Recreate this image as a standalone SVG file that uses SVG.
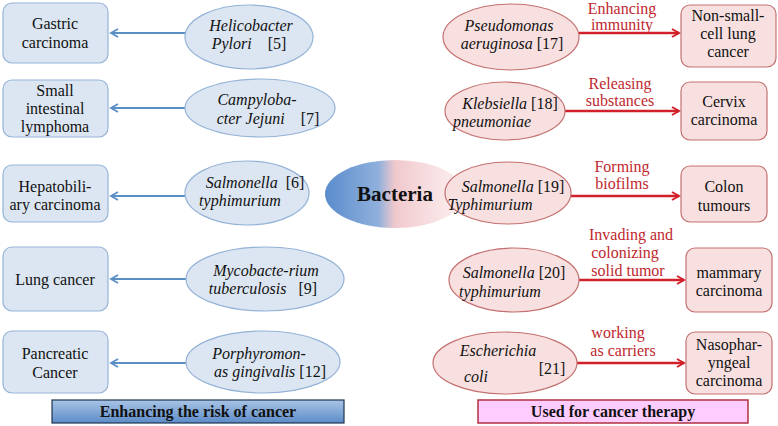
<svg xmlns="http://www.w3.org/2000/svg" width="778" height="426" viewBox="0 0 778 426" font-family="'Liberation Serif', 'Times New Roman', 'DejaVu Serif', serif">
<defs>
<marker id="ab" markerWidth="10" markerHeight="10" refX="8" refY="5" orient="auto" markerUnits="userSpaceOnUse"><path d="M1,1 L8,5 L1,9" fill="none" stroke="#5b8fc4" stroke-width="1.8"/></marker>
<marker id="ar" markerWidth="10" markerHeight="10" refX="8" refY="5" orient="auto" markerUnits="userSpaceOnUse"><path d="M1,1 L8,5 L1,9" fill="none" stroke="#d2202a" stroke-width="2"/></marker>
<linearGradient id="bac" x1="0" x2="1" y1="0" y2="0">
<stop offset="0" stop-color="#5a8ccc"/><stop offset="0.38" stop-color="#8fb0dc"/><stop offset="0.5" stop-color="#f0c8cc"/><stop offset="1" stop-color="#fbe4e6" stop-opacity="0.6"/></linearGradient>
<linearGradient id="cap" x1="0" x2="0" y1="0" y2="1"><stop offset="0" stop-color="#a9c4e6"/><stop offset="1" stop-color="#5d8cc8"/></linearGradient>
<style>
text{font-family:'Liberation Serif','Times New Roman','DejaVu Serif',serif;font-size:16px;fill:#111;text-anchor:middle}
.i{font-style:italic}
.lab{fill:#c0282e}
.bb{fill:#dce6f2;stroke:#95b3d7;stroke-width:1.2}
.pb{fill:#f8e0e0;stroke:#c47070;stroke-width:1.2}
.ab{stroke:#5b8fc4;stroke-width:2;fill:none}
.ar{stroke:#d2202a;stroke-width:2.5;fill:none}
.b{font-weight:bold}
</style>
</defs>
<g id="connectors">
<line class="ab" x1="185" y1="33" x2="111" y2="33" marker-end="url(#ab)"/>
<line class="ab" x1="185" y1="108" x2="111" y2="108" marker-end="url(#ab)"/>
<line class="ab" x1="185" y1="196" x2="111" y2="196" marker-end="url(#ab)"/>
<line class="ab" x1="186" y1="279" x2="111" y2="279" marker-end="url(#ab)"/>
<line class="ab" x1="186" y1="363" x2="111" y2="363" marker-end="url(#ab)"/>
<line class="ar" x1="579" y1="33" x2="679" y2="33" marker-end="url(#ar)"/>
<line class="ar" x1="565" y1="111" x2="679" y2="111" marker-end="url(#ar)"/>
<line class="ar" x1="571" y1="196" x2="679" y2="196" marker-end="url(#ar)"/>
<line class="ar" x1="579" y1="280" x2="684" y2="280" marker-end="url(#ar)"/>
<line class="ar" x1="577" y1="363" x2="684" y2="363" marker-end="url(#ar)"/>
<text class="lab" x="622" y="14">Enhancing</text><text class="lab" x="622" y="30">immunity</text>
<text class="lab" x="620" y="89">Releasing</text><text class="lab" x="620" y="106">substances</text>
<text class="lab" x="622" y="172">Forming</text><text class="lab" x="622" y="189">biofilms</text>
<text class="lab" x="631" y="240">Invading and</text><text class="lab" x="625" y="258">colonizing</text><text class="lab" x="628" y="276">solid tumor</text>
<text class="lab" x="618" y="338">working</text><text class="lab" x="623" y="356">as carriers</text>
</g>
<g id="n-gastric"><rect class="bb" x="3" y="3" width="105" height="60" rx="9"/><text x="55" y="29">Gastric</text><text x="55" y="48">carcinoma</text></g>
<g id="n-small"><rect class="bb" x="3" y="80" width="105" height="57" rx="9"/><text x="55" y="96">Small</text><text x="55" y="114">intestinal</text><text x="55" y="132">lymphoma</text></g>
<g id="n-hepato"><rect class="bb" x="3" y="165" width="105" height="57" rx="9"/><text x="55" y="192">Hepatobili-</text><text x="55" y="210">ary carcinoma</text></g>
<g id="n-lung"><rect class="bb" x="3" y="247" width="105" height="64" rx="9"/><text x="55" y="285">Lung cancer</text></g>
<g id="n-panc"><rect class="bb" x="3" y="331" width="105" height="62" rx="9"/><text x="55" y="359">Pancreatic</text><text x="55" y="378">Cancer</text></g>
<g id="n-helico"><ellipse class="bb" cx="249" cy="37" rx="64" ry="32"/><text class="i" x="251" y="31">Helicobacter</text><text x="249" y="49" xml:space="preserve"><tspan class="i">Pylori</tspan>    [5]</text></g>
<g id="n-campy"><ellipse class="bb" cx="260" cy="108" rx="75" ry="29"/><text class="i" x="257" y="105">Campyloba-</text><text x="268" y="124" xml:space="preserve"><tspan class="i">cter Jejuni</tspan>    [7]</text></g>
<g id="n-salm6"><ellipse class="bb" cx="247" cy="193" rx="62" ry="32"/><text x="255" y="188" xml:space="preserve"><tspan class="i">Salmonella</tspan>  [6]</text><text class="i" x="240" y="206">typhimurium</text></g>
<g id="n-myco"><ellipse class="bb" cx="265" cy="279" rx="79" ry="32"/><text class="i" x="266" y="276">Mycobacte-rium</text><text x="263" y="294" xml:space="preserve"><tspan class="i">tuberculosis</tspan>   [9]</text></g>
<g id="n-porph"><ellipse class="bb" cx="263" cy="362" rx="77" ry="31"/><text class="i" x="259" y="359">Porphyromon-</text><text x="270" y="377"><tspan class="i">as gingivalis</tspan> [12]</text></g>
<g id="n-bacteria"><ellipse cx="395" cy="194" rx="70" ry="34" fill="url(#bac)"/><text class="b" x="395" y="201" style="font-size:21px">Bacteria</text></g>
<g id="n-pseudo"><ellipse class="pb" cx="511" cy="37" rx="68" ry="33"/><text class="i" x="509" y="31">Pseudomonas</text><text x="512" y="49"><tspan class="i">aeruginosa</tspan> [17]</text></g>
<g id="n-kleb"><ellipse class="pb" cx="505" cy="111" rx="60" ry="29"/><text x="510" y="109"><tspan class="i">Klebsiella</tspan> [18]</text><text class="i" x="492" y="127">pneumoniae</text></g>
<g id="n-salm19"><ellipse class="pb" cx="508" cy="193" rx="63" ry="31"/><text x="513" y="192"><tspan class="i">Salmonella</tspan> [19]</text><text class="i" x="490" y="210">Typhimurium</text></g>
<g id="n-salm20"><ellipse class="pb" cx="514" cy="280" rx="65" ry="32"/><text x="514" y="278"><tspan class="i">Salmonella</tspan> [20]</text><text class="i" x="500" y="297">typhimurium</text></g>
<g id="n-esch"><ellipse class="pb" cx="505" cy="363" rx="72" ry="31"/><text class="i" x="498" y="356">Escherichia</text><text class="i" x="476" y="382">coli</text><text x="552" y="374">[21]</text></g>
<g id="n-nsclc"><rect class="pb" x="681" y="5" width="95" height="62" rx="9"/><text x="728" y="21">Non-small-</text><text x="728" y="39">cell lung</text><text x="728" y="57">cancer</text></g>
<g id="n-cervix"><rect class="pb" x="681" y="82" width="86" height="58" rx="9"/><text x="724" y="107">Cervix</text><text x="724" y="125">carcinoma</text></g>
<g id="n-colon"><rect class="pb" x="681" y="166" width="86" height="56" rx="9"/><text x="724" y="192">Colon</text><text x="724" y="211">tumours</text></g>
<g id="n-mammary"><rect class="pb" x="686" y="248" width="86" height="64" rx="9"/><text x="729" y="278">mammary</text><text x="729" y="296">carcinoma</text></g>
<g id="n-naso"><rect class="pb" x="686" y="332" width="86" height="62" rx="9"/><text x="729" y="350">Nasophar-</text><text x="729" y="368">yngeal</text><text x="729" y="386">carcinoma</text></g>
<g id="cap-left"><rect x="52" y="400" width="292" height="23" fill="url(#cap)" stroke="#1f3550" stroke-width="1.2"/><text class="b" x="198" y="417" style="font-size:16px">Enhancing the risk of cancer</text></g>
<g id="cap-right"><rect x="478" y="400" width="270" height="23" fill="#ffccff" stroke="#b03040" stroke-width="1.5"/><text class="b" x="613" y="417" style="font-size:16px">Used for cancer therapy</text></g>
</svg>
